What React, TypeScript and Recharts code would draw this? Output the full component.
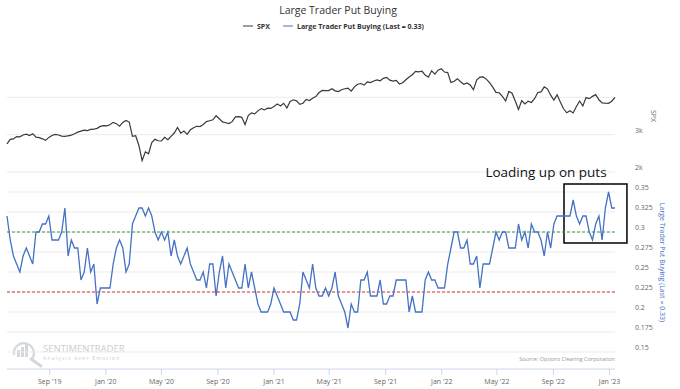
import {
  CartesianGrid,
  Line,
  LineChart,
  ReferenceArea,
  ReferenceLine,
  XAxis,
  YAxis,
} from "recharts";

// weekly closes, Friday 2019-05-31 .. Friday 2023-01-13
const FIRST_WEEK = "2019-05-31";
const WEEK_MS = 7 * 24 * 60 * 60 * 1000;

const spxWeekly = [
  // 2019
  2752, 2873, 2887, 2950, 2942, 2990, 3014, 2977, 3026, 2932, 2919, 2889, 2847, 2926,
  2979, 3007, 2992, 2962, 2952, 2970, 2986, 3023, 3067, 3093, 3120, 3110, 3141, 3146,
  3169, 3221, 3240,
  // 2020
  3235, 3265, 3330, 3295, 3226, 3328, 3380, 3338, 2954, 2972, 2711, 2305, 2541, 2489,
  2790, 2875, 2837, 2831, 2930, 2864, 2955, 3044, 3194, 3041, 3098, 3009, 3130, 3185,
  3225, 3216, 3271, 3351, 3373, 3397, 3508, 3427, 3341, 3319, 3298, 3348, 3477, 3484,
  3465, 3270, 3510, 3585, 3558, 3638, 3699, 3663, 3709, 3703,
  // 2021
  3756, 3825, 3768, 3841, 3714, 3887, 3934, 3907, 3811, 3842, 3943, 3913, 3975, 4020,
  4129, 4185, 4180, 4181, 4233, 4174, 4156, 4204, 4230, 4247, 4166, 4281, 4352, 4370,
  4327, 4412, 4395, 4437, 4468, 4442, 4509, 4535, 4459, 4433, 4455, 4357, 4391, 4471,
  4545, 4605, 4697, 4682, 4698, 4595, 4538, 4712, 4620, 4726, 4766,
  // 2022
  4677, 4662, 4398, 4432, 4500, 4419, 4349, 4385, 4329, 4204, 4463, 4543, 4546, 4488,
  4393, 4272, 4132, 4123, 4024, 3901, 4158, 4109, 3901, 3675, 3912, 3825, 3899, 3863,
  3962, 4130, 4145, 4280, 4228, 4058, 3924, 4067, 3873, 3693, 3586, 3640, 3583, 3753,
  3901, 3771, 3993, 3965, 4026, 4072, 3934, 3852, 3845, 3840,
  // 2023
  3895, 3999,
];

const putBuyingWeekly = [
  0.32, 0.29, 0.27, 0.26, 0.25, 0.27, 0.28, 0.27, 0.26, 0.3,
  0.3, 0.31, 0.31, 0.32, 0.29, 0.29, 0.29, 0.3, 0.33, 0.27,
  0.29, 0.28, 0.28, 0.24, 0.25, 0.28, 0.25, 0.26, 0.21, 0.23,
  0.23, 0.23, 0.23, 0.26, 0.28, 0.29, 0.28, 0.25, 0.26, 0.31,
  0.32, 0.33, 0.33, 0.32, 0.33, 0.32, 0.3, 0.29, 0.3, 0.29,
  0.3, 0.27, 0.29, 0.27, 0.26, 0.27, 0.28, 0.26, 0.25, 0.24,
  0.24, 0.25, 0.23, 0.26, 0.26, 0.22, 0.25, 0.27, 0.23, 0.26,
  0.25, 0.24, 0.23, 0.23, 0.26, 0.23, 0.25, 0.23, 0.21, 0.2,
  0.2, 0.2, 0.21, 0.23, 0.22, 0.21, 0.2, 0.2, 0.2, 0.19,
  0.19, 0.21, 0.25, 0.24, 0.23, 0.26, 0.23, 0.22, 0.22, 0.23,
  0.22, 0.23, 0.25, 0.22, 0.21, 0.2, 0.18, 0.21, 0.2, 0.2,
  0.24, 0.24, 0.25, 0.22, 0.22, 0.22, 0.24, 0.21, 0.21, 0.22,
  0.22, 0.24, 0.24, 0.24, 0.24, 0.2, 0.22, 0.2, 0.2, 0.2,
  0.24, 0.25, 0.24, 0.24, 0.23, 0.23, 0.23,
  0.26, 0.28, 0.3, 0.3, 0.28, 0.28, 0.29, 0.26, 0.26, 0.27,
  0.23, 0.26, 0.26, 0.26, 0.28, 0.3, 0.29, 0.3, 0.3, 0.28,
  0.28, 0.28, 0.31, 0.29, 0.3, 0.28, 0.31, 0.3, 0.3, 0.29,
  0.27, 0.3, 0.28, 0.31, 0.32, 0.32, 0.32, 0.32, 0.32, 0.34,
  0.32, 0.31, 0.32, 0.32, 0.3, 0.29, 0.31, 0.32, 0.29, 0.33,
  0.35, 0.33, 0.33,
];

const monthTickDates = [
  "2019-09-01", "2020-01-01", "2020-05-01", "2020-09-01", "2021-01-01", "2021-05-01",
  "2021-09-01", "2022-01-01", "2022-05-01", "2022-09-01", "2023-01-01",
];
const monthTickLabels = [
  "Sep '19", "Jan '20", "May '20", "Sep '20", "Jan '21", "May '21",
  "Sep '21", "Jan '22", "May '22", "Sep '22", "Jan '23",
];

const spxTickValues = [2000, 3000, 4000];
const spxTickLabels = ["2k", "3k", ""];

const putTickLabels = ["0.15", "0.175", "0.2", "0.225", "0.25", "0.275", "0.3", "0.325", "0.35"];

const HIGH_LEVEL = 0.3;
const LOW_LEVEL = 0.225;

// "Loading up on puts" box, in data units
const highlight = { from: "2022-09-24", to: "2023-02-08", top: 0.36, bottom: 0.28625 };

const SPX_COLOR = "#3a3a3a";
const PUT_COLOR = "#4472c4";
const GRID = "#ebebeb";
const LABEL = "#666666";

const firstT = Date.parse(FIRST_WEEK);
const rows = spxWeekly.map((spx, i) => ({
  t: firstT + i * WEEK_MS,
  spx,
  put: putBuyingWeekly[i],
}));
const xDomain = [rows[0].t, rows[rows.length - 1].t];
const xTicks = monthTickDates.map((d) => Date.parse(d));
const putTicks = putTickLabels.map(Number);

function formatMonth(value: number) {
  const i = xTicks.indexOf(value);
  return i >= 0 ? monthTickLabels[i] : "";
}

function formatSpx(value: number) {
  const i = spxTickValues.indexOf(value);
  return i >= 0 ? spxTickLabels[i] : "";
}

function formatPut(value: number) {
  const i = putTicks.indexOf(value);
  return i >= 0 ? putTickLabels[i] : "";
}

function Watermark() {
  const c = "#d3d8de";
  return (
    <svg width={140} height={34} style={{ position: "absolute", left: 8, top: 335 }}>
      <path d="M 6 20 A 10 10 0 1 1 24 24" fill="none" stroke={c} strokeWidth={2.2} />
      <rect x={9} y={15} width={3} height={7} fill={c} />
      <rect x={13} y={12} width={3} height={10} fill={c} />
      <rect x={17} y={9} width={3} height={13} fill={c} />
      <line x1={23} y1={24} x2={33} y2={31} stroke={c} strokeWidth={3} strokeLinecap="round" />
      <text x={35} y={17} fontSize={9.5} fill="#c9ced5" fontFamily="'Open Sans', sans-serif">
        SENTIMENTRADER
      </text>
      <text x={35} y={24.5} fontSize={5} letterSpacing={1.25} fill="#c9ced5" fontFamily="'Open Sans', sans-serif">
        Analysis over Emotion
      </text>
    </svg>
  );
}

export default function App() {
  return (
    <div
      style={{
        position: "absolute",
        left: 0,
        top: 0,
        width: 680,
        height: 389,
        background: "#fff",
        overflow: "hidden",
        fontFamily: "'Open Sans', sans-serif",
      }}
    >
      <div
        style={{
          position: "absolute",
          left: 338,
          top: 10,
          transform: "translate(-50%, -50%)",
          whiteSpace: "nowrap",
          fontSize: 10.5,
          color: "#333",
        }}
      >
        Large Trader Put Buying
      </div>

      <div
        style={{
          position: "absolute",
          left: 243,
          top: 26,
          transform: "translateY(-50%)",
          display: "flex",
          alignItems: "center",
          whiteSpace: "nowrap",
          fontSize: 7,
          fontWeight: 700,
          color: "#333",
        }}
      >
        <span style={{ width: 10, height: 1.5, background: SPX_COLOR, marginRight: 4 }} />
        <span>SPX</span>
        <span style={{ width: 10, height: 1.5, background: PUT_COLOR, marginLeft: 13, marginRight: 4 }} />
        <span>Large Trader Put Buying (Last = 0.33)</span>
      </div>

      <Watermark />

      {/* SPX pane */}
      <div style={{ position: "absolute", left: 0, top: 0 }}>
        <LineChart width={680} height={175} data={rows} margin={{ top: 60, right: 0, bottom: 3, left: 7 }}>
          <CartesianGrid vertical={false} stroke={GRID} horizontalValues={spxTickValues} />
          <XAxis dataKey="t" type="number" domain={xDomain} hide />
          <YAxis
            orientation="right"
            width={65}
            domain={[2000, 5000]}
            ticks={spxTickValues}
            interval={0}
            tickFormatter={formatSpx}
            axisLine={false}
            tickLine={false}
            tickMargin={14}
            tick={{ fill: LABEL, fontSize: 7, dy: -4 }}
            label={{ value: "SPX", angle: 90, position: "center", dx: 5.5, fill: LABEL, fontSize: 7 }}
          />
          <Line
            type="linear"
            dataKey="spx"
            stroke={SPX_COLOR}
            strokeWidth={1.2}
            dot={false}
            isAnimationActive={false}
          />
        </LineChart>
      </div>

      {/* Put buying pane */}
      <div style={{ position: "absolute", left: 0, top: 150 }}>
        <LineChart width={680} height={239} data={rows} margin={{ top: 22, right: 0, bottom: 0, left: 7 }}>
          <CartesianGrid vertical={false} stroke={GRID} horizontalValues={putTicks} />
          <XAxis
            dataKey="t"
            type="number"
            domain={xDomain}
            ticks={xTicks}
            interval={0}
            tickFormatter={formatMonth}
            height={20}
            axisLine={{ stroke: "#ccd6eb" }}
            tickLine={{ stroke: "#ccd6eb" }}
            tickSize={6}
            tickMargin={4}
            tick={{ fill: LABEL, fontSize: 7 }}
          />
          <YAxis
            orientation="right"
            width={65}
            domain={[0.12875, 0.375]}
            ticks={putTicks}
            interval={0}
            tickFormatter={formatPut}
            axisLine={false}
            tickLine={false}
            tickMargin={14}
            tick={{ fill: LABEL, fontSize: 7, dy: -4 }}
            label={{
              value: "Large Trader Put Buying (Last = 0.33)",
              angle: 90,
              position: "center",
              dx: 15,
              dy: -8,
              fill: PUT_COLOR,
              fontSize: 7,
            }}
          />
          <ReferenceLine y={HIGH_LEVEL} stroke="#3d9a3d" strokeDasharray="3 2" />
          <ReferenceLine y={LOW_LEVEL} stroke="#e0372e" strokeDasharray="3 2" />
          <Line
            type="linear"
            dataKey="put"
            stroke={PUT_COLOR}
            strokeWidth={1.3}
            dot={false}
            isAnimationActive={false}
          />
          <ReferenceArea
            x1={Date.parse(highlight.from)}
            x2={Date.parse(highlight.to)}
            y1={highlight.bottom}
            y2={highlight.top}
            ifOverflow="visible"
            fill="none"
            fillOpacity={0}
            stroke="#000"
            strokeWidth={1.5}
          />
        </LineChart>
      </div>

      <div
        style={{
          position: "absolute",
          left: 546,
          top: 172,
          transform: "translate(-50%, -50%)",
          whiteSpace: "nowrap",
          fontSize: 13.5,
          color: "#111",
        }}
      >
        Loading up on puts
      </div>

      <svg width={680} height={389} style={{ position: "absolute", left: 0, top: 0, pointerEvents: "none" }}>
        <text x={615} y={361} textAnchor="end" fontSize={5.5} fill="#999" fontFamily="'Open Sans', sans-serif">
          Source: Options Clearing Corporation
        </text>
      </svg>
    </div>
  );
}
